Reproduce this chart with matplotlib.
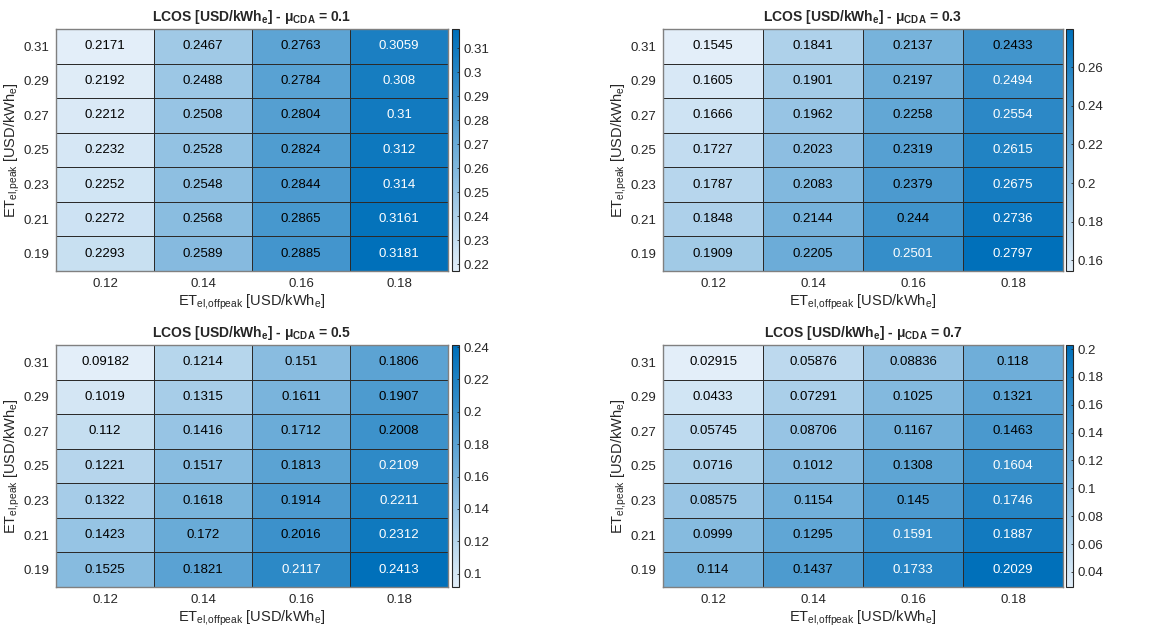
import numpy as np
import matplotlib
matplotlib.use('Agg')
import matplotlib.pyplot as plt
from matplotlib.colors import LinearSegmentedColormap, Normalize
from matplotlib.cm import ScalarMappable
from matplotlib.ticker import FormatStrFormatter, MultipleLocator

plt.rcParams['font.family'] = ['Liberation Sans', 'DejaVu Sans']
plt.rcParams['mathtext.fontset'] = 'custom'
plt.rcParams['mathtext.rm'] = 'Liberation Sans'
plt.rcParams['mathtext.it'] = 'Liberation Sans:italic'
plt.rcParams['mathtext.bf'] = 'Liberation Sans:bold'

# axes categories
offpeak = ['0.12', '0.14', '0.16', '0.18']
peak = ['0.31', '0.29', '0.27', '0.25', '0.23', '0.21', '0.19']
mu = ['0.1', '0.3', '0.5', '0.7']

# LCOS values, rows = peak (top to bottom), cols = offpeak
lcos_01 = [[0.2171, 0.2467, 0.2763, 0.3059],
           [0.2192, 0.2488, 0.2784, 0.308],
           [0.2212, 0.2508, 0.2804, 0.31],
           [0.2232, 0.2528, 0.2824, 0.312],
           [0.2252, 0.2548, 0.2844, 0.314],
           [0.2272, 0.2568, 0.2865, 0.3161],
           [0.2293, 0.2589, 0.2885, 0.3181]]
lcos_03 = [[0.1545, 0.1841, 0.2137, 0.2433],
           [0.1605, 0.1901, 0.2197, 0.2494],
           [0.1666, 0.1962, 0.2258, 0.2554],
           [0.1727, 0.2023, 0.2319, 0.2615],
           [0.1787, 0.2083, 0.2379, 0.2675],
           [0.1848, 0.2144, 0.244, 0.2736],
           [0.1909, 0.2205, 0.2501, 0.2797]]
lcos_05 = [[0.09182, 0.1214, 0.151, 0.1806],
           [0.1019, 0.1315, 0.1611, 0.1907],
           [0.112, 0.1416, 0.1712, 0.2008],
           [0.1221, 0.1517, 0.1813, 0.2109],
           [0.1322, 0.1618, 0.1914, 0.2211],
           [0.1423, 0.172, 0.2016, 0.2312],
           [0.1525, 0.1821, 0.2117, 0.2413]]
lcos_07 = [[0.02915, 0.05876, 0.08836, 0.118],
           [0.0433, 0.07291, 0.1025, 0.1321],
           [0.05745, 0.08706, 0.1167, 0.1463],
           [0.0716, 0.1012, 0.1308, 0.1604],
           [0.08575, 0.1154, 0.145, 0.1746],
           [0.0999, 0.1295, 0.1591, 0.1887],
           [0.114, 0.1437, 0.1733, 0.2029]]

data = [lcos_01, lcos_03, lcos_05, lcos_07]
cb_step = [0.01, 0.02, 0.02, 0.02]

cmap = LinearSegmentedColormap.from_list('mblue', [(0.89, 0.935, 0.975), (0.0, 0.44, 0.73)])

fig = plt.figure(figsize=(11.5, 6.35), dpi=100)
W, H = 1150, 635
boxes = [(56, 29, 448, 271), (663, 29, 1063, 271),
         (56, 345, 448, 587), (663, 345, 1063, 587)]
cbx = [452, 1066, 452, 1066]

for k in range(4):
    x0, y0, x1, y1 = boxes[k]
    ax = fig.add_axes([x0 / W, 1 - y1 / H, (x1 - x0) / W, (y1 - y0) / H])
    Z = np.array(data[k])
    vmin, vmax = Z.min(), Z.max()
    norm = Normalize(vmin, vmax)
    ax.pcolormesh(np.arange(5), np.arange(8), Z, cmap=cmap, norm=norm,
                  edgecolors='#2b2b2b', linewidth=0.55)
    ax.set_xlim(0, 4)
    ax.set_ylim(7, 0)
    for i in range(7):
        for j in range(4):
            t = norm(Z[i, j])
            ax.text(j + 0.5, i + 0.5, '%.4g' % Z[i, j], ha='center', va='center',
                    fontsize=9.5, color='white' if t > 0.74 else 'black')
    ax.set_xticks(np.arange(4) + 0.5)
    ax.set_xticklabels(offpeak)
    ax.set_yticks(np.arange(7) + 0.5)
    ax.set_yticklabels(peak)
    ax.tick_params(length=0, labelsize=9.5, colors='#262626', pad=5)
    for s in ax.spines.values():
        s.set_color('#808080')
        s.set_linewidth(1)
    ax.set_xlabel(r'ET$_\mathregular{el{,}offpeak}$ [USD/kWh$_\mathregular{e}$]', fontsize=10.5,
                  color='#262626', labelpad=2)
    ax.set_ylabel(r'ET$_\mathregular{el{,}peak}$ [USD/kWh$_\mathregular{e}$]', fontsize=10.5,
                  color='#262626', labelpad=1)
    ax.set_title(r'LCOS [USD/kWh$_\mathbf{e}$] - μ$_\mathbf{CDA}$ = ' + mu[k], fontsize=10,
                 fontweight='bold', color='#262626', pad=6)

    cax = fig.add_axes([cbx[k] / W, 1 - y1 / H, 7 / W, (y1 - y0) / H])
    cb = fig.colorbar(ScalarMappable(norm=norm, cmap=cmap), cax=cax)
    cb.solids.set_edgecolor('face')
    cb.outline.set_edgecolor('#262626')
    cb.outline.set_linewidth(0.8)
    cb.ax.yaxis.set_major_locator(MultipleLocator(cb_step[k]))
    cb.ax.yaxis.set_major_formatter(FormatStrFormatter('%g'))
    cb.ax.tick_params(direction='in', length=1.8, width=0.6, labelsize=9.5, colors='#262626', pad=3)

fig.savefig('out.png', dpi=100)
